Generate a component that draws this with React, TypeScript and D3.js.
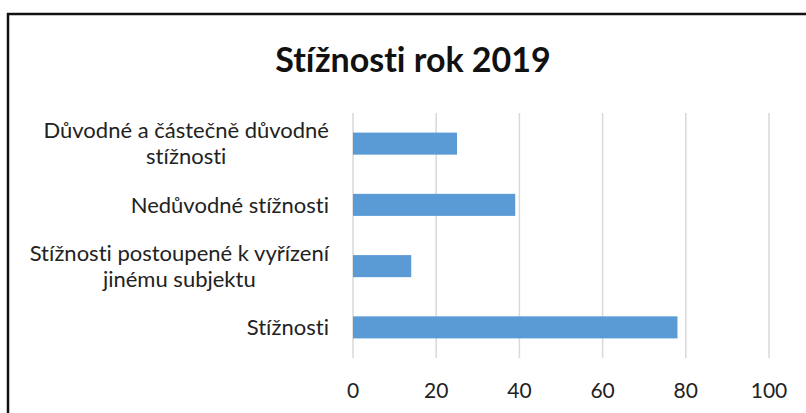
import { useEffect, useRef } from 'react';
import * as d3 from 'd3';

const TITLE = 'Stížnosti rok 2019';
const CATEGORIES = [
  ['Důvodné a částečně důvodné', 'stížnosti'],
  ['Nedůvodné stížnosti'],
  ['Stížnosti postoupené k vyřízení', 'jinému subjektu'],
  ['Stížnosti'],
];
const VALUES = [25, 39, 14, 78];
const TICKS = [0, 20, 40, 60, 80, 100];

const FONT = 'Lato, "Open Sans", sans-serif';

const App = () => {
  const svgRef = useRef<SVGSVGElement>(null);

  useEffect(() => {
    if (!svgRef.current) return;
    const width = 806;
    const height = 413;
    const plot = { left: 353, right: 769, top: 113, bottom: 358 };

    const svg = d3.select(svgRef.current);
    svg.selectAll('*').remove();
    svg.attr('width', width).attr('height', height).style('font-variant-ligatures', 'none');

    svg.append('rect').attr('width', width).attr('height', height).attr('fill', '#fff');

    // chart frame (runs off the right and bottom edges)
    svg
      .append('rect')
      .attr('x', 8)
      .attr('y', 14)
      .attr('width', width + 20)
      .attr('height', height + 20)
      .attr('fill', 'none')
      .attr('stroke', '#111')
      .attr('stroke-width', 2.5);

    svg
      .append('text')
      .attr('x', 413)
      .attr('y', 72)
      .attr('text-anchor', 'middle')
      .attr('font-family', FONT)
      .attr('font-size', '34px')
      .attr('font-weight', 'bold')
      .attr('fill', '#111')
      .text(TITLE);

    const x = d3.scaleLinear().domain([0, 100]).range([plot.left, plot.right]);
    const y = d3
      .scaleBand<number>()
      .domain(d3.range(CATEGORIES.length))
      .range([plot.top, plot.bottom])
      .paddingInner(0.64)
      .paddingOuter(0.32);

    // gridlines
    svg
      .append('g')
      .selectAll('line')
      .data(TICKS)
      .join('line')
      .attr('x1', (d) => x(d))
      .attr('x2', (d) => x(d))
      .attr('y1', plot.top)
      .attr('y2', plot.bottom)
      .attr('stroke', '#d9d9d9')
      .attr('stroke-width', 1.5);

    // bars
    svg
      .append('g')
      .selectAll('rect')
      .data(VALUES)
      .join('rect')
      .attr('x', x(0))
      .attr('y', (_, i) => y(i)!)
      .attr('width', (d) => x(d) - x(0))
      .attr('height', y.bandwidth())
      .attr('fill', '#5b9bd5');

    // x tick labels
    svg
      .append('g')
      .selectAll('text')
      .data(TICKS)
      .join('text')
      .attr('x', (d) => x(d))
      .attr('y', 398)
      .attr('text-anchor', 'middle')
      .attr('font-family', FONT)
      .attr('font-size', '21px')
      .attr('fill', '#222')
      .text((d) => d);

    // category labels (wrapped lines centred, block right-aligned)
    const lineH = 26;
    const labels = svg.append('g');
    CATEGORIES.forEach((lines, i) => {
      const cy = y(i)! + y.bandwidth() / 2;
      const g = labels.append('g');
      const texts = lines.map((line, j) =>
        g
          .append('text')
          .attr('y', cy + (j - (lines.length - 1) / 2) * lineH)
          .attr('dy', '0.35em')
          .attr('text-anchor', 'middle')
          .attr('font-family', FONT)
          .attr('font-size', '22px')
          .attr('fill', '#222')
          .text(line)
      );
      const widest = d3.max(texts, (t) => (t.node() as SVGTextElement).getComputedTextLength()) ?? 0;
      texts.forEach((t) => t.attr('x', 329 - widest / 2));
    });
  }, []);

  return (
    <div style={{ position: 'absolute', left: 0, top: 0 }}>
      <svg ref={svgRef} style={{ display: 'block' }} />
    </div>
  );
};

export default App;
